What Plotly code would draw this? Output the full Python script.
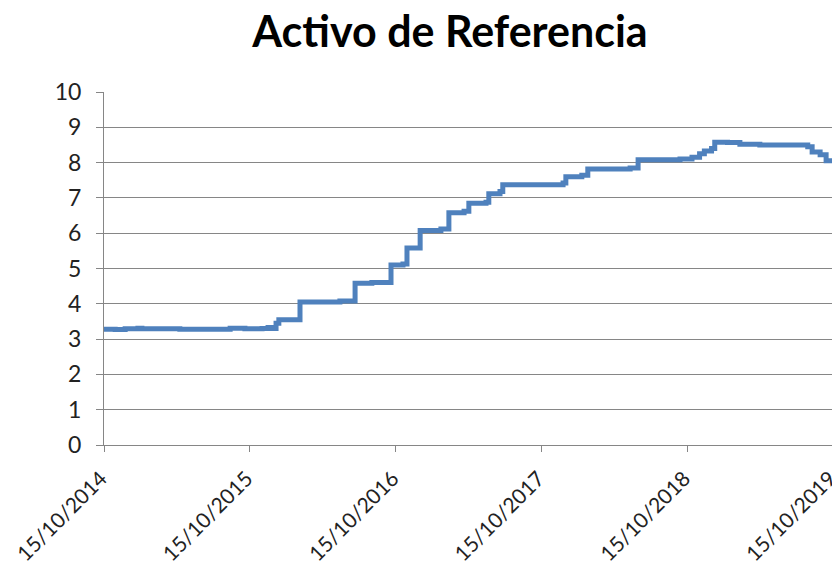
import plotly.graph_objects as go

dates = ["2014-10-15", "2014-11-12", "2014-12-07", "2015-01-08", "2015-01-18", "2015-04-23",
         "2015-08-27", "2015-10-03", "2015-11-15", "2015-11-30", "2015-12-10", "2015-12-20",
         "2015-12-27", "2016-02-18", "2016-05-28", "2016-07-05", "2016-08-16", "2016-10-03",
         "2016-11-02", "2016-11-12", "2016-12-15", "2017-02-05", "2017-02-25", "2017-04-04",
         "2017-04-16", "2017-05-29", "2017-06-05", "2017-07-03", "2017-07-10", "2017-12-08",
         "2017-12-15", "2018-01-24", "2018-02-08", "2018-05-25", "2018-06-14", "2018-09-27",
         "2018-10-27", "2018-11-15", "2018-11-27", "2018-12-15", "2018-12-23", "2019-01-24",
         "2019-02-24", "2019-04-15", "2019-06-29", "2019-08-13", "2019-08-24", "2019-09-13",
         "2019-09-28", "2019-10-15"]
values = [3.28, 3.27, 3.29, 3.31, 3.29, 3.28,
          3.31, 3.29, 3.30, 3.33, 3.30, 3.45,
          3.55, 4.05, 4.08, 4.58, 4.60, 5.10,
          5.13, 5.58, 6.08, 6.12, 6.58, 6.62,
          6.85, 6.88, 7.12, 7.18, 7.37, 7.42,
          7.60, 7.64, 7.82, 7.85, 8.08, 8.10,
          8.15, 8.25, 8.33, 8.40, 8.58, 8.57,
          8.52, 8.50, 8.50, 8.45, 8.30, 8.22,
          8.05, 8.00]

tick_dates = ["2014-10-15", "2015-10-15", "2016-10-15", "2017-10-15", "2018-10-15", "2019-10-15"]
tick_labels = ["15/10/2014", "15/10/2015", "15/10/2016", "15/10/2017", "15/10/2018", "15/10/2019"]
y_ticks = list(range(0, 11))

fig = go.Figure()
fig.add_trace(go.Scatter(x=dates, y=values, mode="lines", line_shape="hv",
                         line=dict(color="#4F81BD", width=5), showlegend=False))

fig.update_layout(
    width=840, height=569,
    margin=dict(l=96, r=15, t=84, b=132),
    paper_bgcolor="white", plot_bgcolor="white",
    title=dict(text="<b>Activo de Referencia</b>", x=(442 - 96) / 729, xref="paper", xanchor="center",
               y=1 - 24 / 569, yref="container", yanchor="middle",
               font=dict(family="Lato, Open Sans, sans-serif", size=43, color="black")),
    font=dict(family="Lato, Open Sans, sans-serif", size=22, color="#222222"),
)
fig.update_xaxes(type="date", range=["2014-10-15", "2019-10-15 06:00"], tickvals=tick_dates, ticktext=tick_labels,
                 tickangle=-45, showgrid=False, showline=True, linecolor="#868686", linewidth=1,
                 ticks="outside", ticklen=6, tickcolor="#868686", zeroline=False, automargin=False,
                 ticklabelstandoff=6, ticklabelshift=-3, ticklabeloverflow="allow",
                 tickfont=dict(size=21))
fig.update_yaxes(range=[0, 10], tickvals=y_ticks, showgrid=True, gridcolor="#868686", gridwidth=1,
                 showline=True, linecolor="#868686", linewidth=1, ticks="outside", ticklen=7,
                 tickcolor="#868686", zeroline=False, automargin=False,
                 ticklabelstandoff=10, tickfont=dict(size=23))

fig.write_html("out.html")
